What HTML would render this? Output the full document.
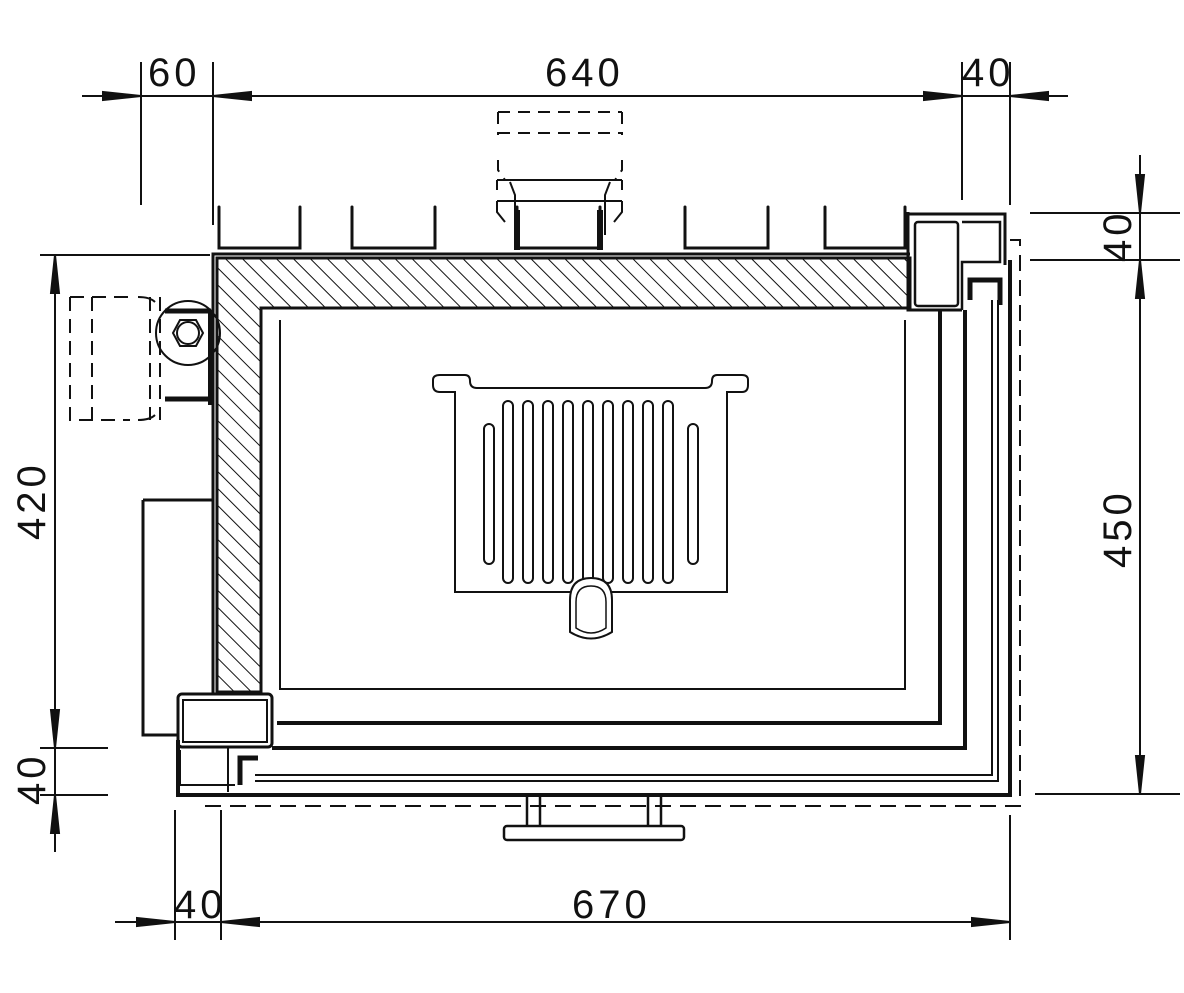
<!DOCTYPE html>
<html><head><meta charset="utf-8"><style>html,body{margin:0;padding:0;background:#fff}svg{display:block}</style></head>
<body>
<svg width="1184" height="993" viewBox="0 0 1184 993" xmlns="http://www.w3.org/2000/svg">
<defs>
<pattern id="h" patternUnits="userSpaceOnUse" width="12" height="12" patternTransform="rotate(-45)">
<line x1="0" y1="0" x2="0" y2="12" stroke="#111" stroke-width="2"/>
</pattern>
</defs>
<g fill="none" stroke="#111" stroke-width="2">
<line x1="82" y1="96" x2="1068" y2="96"/>
<line x1="141" y1="62" x2="141" y2="205"/>
<line x1="213" y1="62" x2="213" y2="225"/>
<line x1="962" y1="62" x2="962" y2="200"/>
<line x1="1010" y1="62" x2="1010" y2="205"/>
<path d="M141,96 l-38,-4 v8 z M213,96 l38,-4 v8 z M962,96 l-38,-4 v8 z M1010,96 l38,-4 v8 z" fill="#111"/>
<line x1="1140" y1="155" x2="1140" y2="795"/>
<line x1="1030" y1="213" x2="1180" y2="213"/>
<line x1="1030" y1="260" x2="1180" y2="260"/>
<line x1="1035" y1="794" x2="1180" y2="794"/>
<path d="M1140,213 l-4,-38 h8 z M1140,260 l-4,38 h8 z M1140,794 l-4,-38 h8 z" fill="#111"/>
<line x1="55" y1="255" x2="55" y2="852"/>
<line x1="40" y1="255" x2="210" y2="255"/>
<line x1="40" y1="748" x2="108" y2="748"/>
<line x1="40" y1="795" x2="108" y2="795"/>
<path d="M55,255 l-4,38 h8 z M55,748 l-4,-38 h8 z M55,795 l-4,38 h8 z" fill="#111"/>
<line x1="115" y1="922" x2="1010" y2="922"/>
<line x1="175" y1="810" x2="175" y2="940"/>
<line x1="221" y1="810" x2="221" y2="940"/>
<line x1="1010" y1="815" x2="1010" y2="940"/>
<path d="M175,922 l-38,-4 v8 z M221,922 l38,-4 v8 z M1010,922 l-38,-4 v8 z" fill="#111"/>
</g>
<g font-family="Liberation Sans, sans-serif" font-size="40" fill="#111" letter-spacing="4">
<text x="148" y="86">60</text>
<text x="545" y="86">640</text>
<text x="962" y="86">40</text>
<text x="174" y="918">40</text>
<text x="572" y="918">670</text>
<text transform="translate(1131,262) rotate(-90)">40</text>
<text transform="translate(1131,568) rotate(-90)">450</text>
<text transform="translate(45,540) rotate(-90)">420</text>
<text transform="translate(45,805) rotate(-90)">40</text>
</g>
<path d="M217,258 H910 V308 H261 V692 H217 Z" fill="url(#h)" stroke="#111" stroke-width="3"/>
<g fill="none" stroke="#111">
<path d="M213,695 V254 H910" stroke-width="3"/>
<g stroke-width="3" stroke-linecap="round">
<path d="M219,207 V248 H300 V207"/>
<path d="M352,207 V248 H435 V207"/>
<path d="M517,207 V248 H600 V207"/>
<path d="M685,207 V248 H768 V207"/>
<path d="M825,207 V248 H905 V207"/>
</g>
<path d="M908,212 V310 H962" stroke-width="3"/>
<path d="M908,214 H1005 V265" stroke-width="3"/>
<rect x="915" y="222" width="43" height="84" rx="3" stroke-width="2.5"/>
<path d="M962,222 H1000 V262 H962 V310" stroke-width="2.5"/>
<path d="M970,300 V280 H1000 V305" stroke-width="5"/>
<path d="M1010,240 H1020 V806 H205 V797" stroke-width="2" stroke-dasharray="16,9"/>
<path d="M905,320 V689 H280 V320" stroke-width="2"/>
<path d="M940,310 V723 H277" stroke-width="4"/>
<path d="M965,310 V748 H272" stroke-width="4"/>
<path d="M992,300 V775 H255" stroke-width="2"/>
<path d="M998,300 V781 H255" stroke-width="2"/>
<path d="M1010,260 V795 H178 V740" stroke-width="4"/>
<path d="M143,500 H213 M143,500 V735 H178" stroke-width="3"/>
<rect x="178" y="694" width="94" height="53" rx="4" stroke-width="3"/>
<rect x="183" y="700" width="84" height="42" stroke-width="2"/>
<path d="M180,750 V785 H235" stroke-width="2"/>
<line x1="228" y1="748" x2="228" y2="792" stroke-width="2"/>
<path d="M240,785 V758 H258" stroke-width="5"/>
<path d="M70,297 H130 M70,297 V420 H130 M92,297 V420 M150,297 V420 M160,297 V420" stroke-width="2" stroke-dasharray="14,8"/>
<path d="M138,297 Q150,297 155,302 M138,420 Q150,420 155,415" stroke-width="2"/>
<circle cx="188" cy="333" r="32" stroke-width="2"/>
<polygon points="173,333 180,320 196,320 203,333 196,346 180,346" stroke-width="2"/>
<circle cx="188" cy="333" r="11" stroke-width="2"/>
<line x1="165" y1="311" x2="211" y2="311" stroke-width="5"/>
<line x1="165" y1="399" x2="211" y2="399" stroke-width="5"/>
<line x1="210" y1="311" x2="210" y2="405" stroke-width="4"/>
<path d="M498,112 H622 M498,112 V135 M622,112 V135 M498,133 H622 M498,160 V170 L505,180 M622,160 V170 L615,180" stroke-width="2" stroke-dasharray="12,8"/>
<path d="M497,180 H622 M497,201 H622 M497,180 V190 M622,180 V190 M497,201 V212 L505,222 M622,201 V212 L614,222 M510,182 L515,195 V235 M610,182 L605,195 V235" stroke-width="2"/>
<line x1="517" y1="210" x2="517" y2="250" stroke-width="6"/>
<line x1="600" y1="210" x2="600" y2="250" stroke-width="6"/>
<rect x="504" y="826" width="180" height="14" rx="3" stroke-width="2.5"/>
<path d="M527,796 V826 M540,796 V826 M648,796 V826 M661,796 V826" stroke-width="2.5"/>
<path d="M570,592 H455 V392 H440 Q433,392 433,385 V380 Q433,375 440,375 H465 Q470,375 470,381 Q470,388 477,388 H705 Q712,388 712,381 Q712,375 717,375 H742 Q748,375 748,380 V385 Q748,392 742,392 H727 V592 H612" stroke-width="2"/>
<g stroke-width="2">
<rect x="484" y="424" width="10" height="140" rx="5"/>
<rect x="503" y="401" width="10" height="182" rx="5"/>
<rect x="523" y="401" width="10" height="182" rx="5"/>
<rect x="543" y="401" width="10" height="182" rx="5"/>
<rect x="563" y="401" width="10" height="182" rx="5"/>
<rect x="583" y="401" width="10" height="182" rx="5"/>
<rect x="603" y="401" width="10" height="182" rx="5"/>
<rect x="623" y="401" width="10" height="182" rx="5"/>
<rect x="643" y="401" width="10" height="182" rx="5"/>
<rect x="663" y="401" width="10" height="182" rx="5"/>
<rect x="688" y="424" width="10" height="140" rx="5"/>
</g>
<path d="M570,600 Q570,578 591,578 Q612,578 612,600 V632 Q591,645 570,632 Z" fill="#fff" stroke-width="2"/>
<path d="M576,602 Q576,586 591,586 Q606,586 606,602 V628 Q591,638 576,628 Z" stroke-width="1.5"/>
</g>
</svg>
</body></html>
